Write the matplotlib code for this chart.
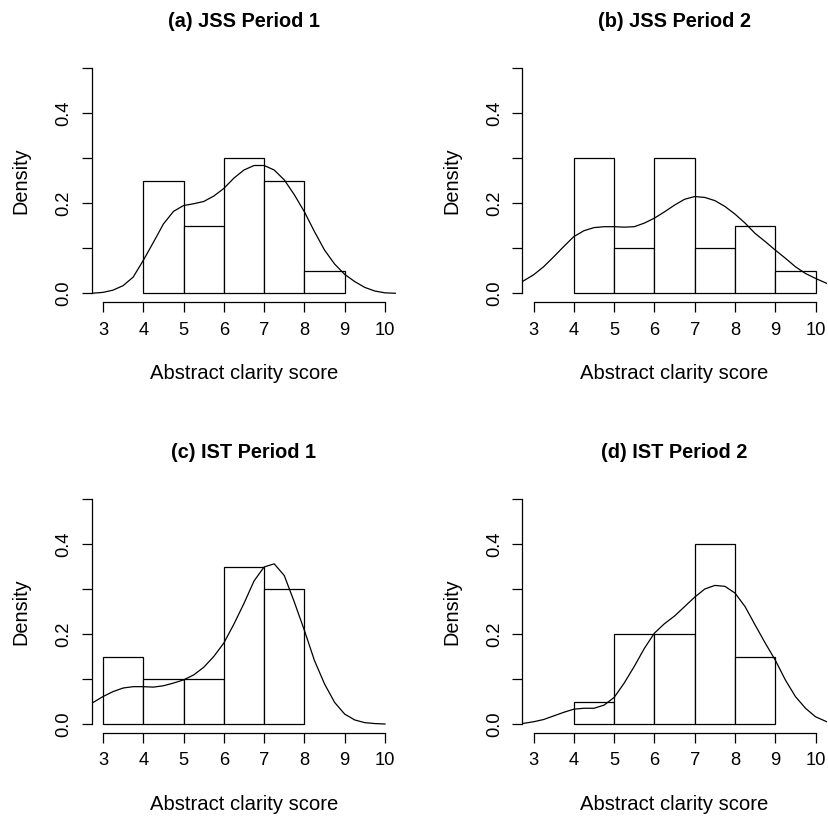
import matplotlib
matplotlib.use('Agg')
import matplotlib.pyplot as plt

plt.rcParams['font.family'] = ['Liberation Sans', 'DejaVu Sans']

# histogram bins and densities
edges_a = [4, 5, 6, 7, 8, 9]
dens_a = [0.25, 0.15, 0.30, 0.25, 0.05]
edges_b = [4, 5, 6, 7, 8, 9, 10]
dens_b = [0.30, 0.10, 0.30, 0.10, 0.15, 0.05]
edges_c = [3, 4, 5, 6, 7, 8]
dens_c = [0.15, 0.10, 0.10, 0.35, 0.30]
edges_d = [4, 5, 6, 7, 8, 9]
dens_d = [0.05, 0.20, 0.20, 0.40, 0.15]

# kernel density curves
kde_x = [2.72, 3.0, 3.25, 3.5, 3.75, 4.0, 4.25, 4.5, 4.75, 5.0, 5.25, 5.5, 5.75,
         6.0, 6.25, 6.5, 6.75, 7.0, 7.25, 7.5, 7.75, 8.0, 8.25, 8.5, 8.75,
         9.0, 9.25, 9.5, 9.75, 10.0, 10.28]
kde_a = [0.000, 0.002, 0.007, 0.017, 0.036, 0.073, 0.113, 0.154, 0.182, 0.195, 0.199,
         0.204, 0.216, 0.233, 0.256, 0.274, 0.284, 0.284, 0.274, 0.252, 0.219,
         0.181, 0.137, 0.096, 0.065, 0.042, 0.026, 0.013, 0.005, 0.001, 0.000]
kde_b = [0.026, 0.041, 0.059, 0.081, 0.104, 0.126, 0.139, 0.146, 0.148, 0.148, 0.147,
         0.148, 0.156, 0.167, 0.181, 0.196, 0.209, 0.215, 0.213, 0.206, 0.193,
         0.176, 0.156, 0.133, 0.115, 0.096, 0.078, 0.059, 0.044, 0.033, 0.022]
kde_c = [0.046, 0.061, 0.072, 0.080, 0.083, 0.083, 0.082, 0.085, 0.091, 0.098, 0.109,
         0.126, 0.150, 0.180, 0.222, 0.268, 0.318, 0.349, 0.356, 0.330, 0.271,
         0.208, 0.141, 0.089, 0.048, 0.022, 0.009, 0.003, 0.001, 0.000]
kde_d = [0.001, 0.005, 0.010, 0.018, 0.026, 0.033, 0.035, 0.035, 0.042, 0.059, 0.091,
         0.128, 0.168, 0.202, 0.223, 0.240, 0.261, 0.282, 0.300, 0.308, 0.306,
         0.291, 0.261, 0.220, 0.180, 0.142, 0.098, 0.061, 0.035, 0.016, 0.005]

titles = ['(a) JSS Period 1', '(b) JSS Period 2', '(c) IST Period 1', '(d) IST Period 2']
x_ticks = [3, 4, 5, 6, 7, 8, 9, 10]
y_ticks = [0.0, 0.1, 0.2, 0.3, 0.4, 0.5]
y_tick_labels = ['0.0', '', '0.2', '', '0.4', '']

fig = plt.figure(figsize=(8.29, 8.17), dpi=100, facecolor='white')

W = 0.3674
H = 0.2974
positions = [(0.1106, 0.630), (0.630, 0.630), (0.1106, 0.1028), (0.630, 0.1028)]
hists = [(edges_a, dens_a), (edges_b, dens_b), (edges_c, dens_c), (edges_d, dens_d)]
curves = [kde_a, kde_b, kde_c, kde_d]

for i in range(4):
    ax = fig.add_axes([positions[i][0], positions[i][1], W, H])
    edges, dens = hists[i]
    ax.bar(edges[:-1], dens, width=1, align='edge', facecolor='white',
           edgecolor='black', linewidth=0.9)
    ky = curves[i]
    ax.plot(kde_x[:len(ky)], ky, color='black', linewidth=0.9)

    ax.set_xlim(2.72, 10.28)
    ax.set_ylim(-0.02, 0.52)
    ax.spines['top'].set_visible(False)
    ax.spines['right'].set_visible(False)
    ax.spines['left'].set_bounds(0, 0.5)
    ax.spines['bottom'].set_bounds(3, 10)
    ax.spines['left'].set_linewidth(0.9)
    ax.spines['bottom'].set_linewidth(0.9)

    ax.set_xticks(x_ticks)
    ax.set_xticklabels([str(t) for t in x_ticks])
    ax.set_yticks(y_ticks)
    ax.set_yticklabels(y_tick_labels)
    ax.tick_params(axis='both', direction='out', length=7, width=0.9, labelsize=13.2)
    ax.tick_params(axis='x', pad=7)
    ax.tick_params(axis='y', pad=7, labelrotation=90)
    for lab in ax.get_yticklabels():
        lab.set_va('center')

    ax.text(0.5, 1.155, titles[i], transform=ax.transAxes, ha='center', va='center',
            fontsize=14.3, fontweight='bold')
    ax.text(0.5, -0.295, 'Abstract clarity score', transform=ax.transAxes,
            ha='center', va='center', fontsize=14.6)
    ax.text(-0.232, 0.5, 'Density', transform=ax.transAxes, rotation=90,
            ha='center', va='center', fontsize=14.3)

fig.savefig('out.png', dpi=100, facecolor='white')
